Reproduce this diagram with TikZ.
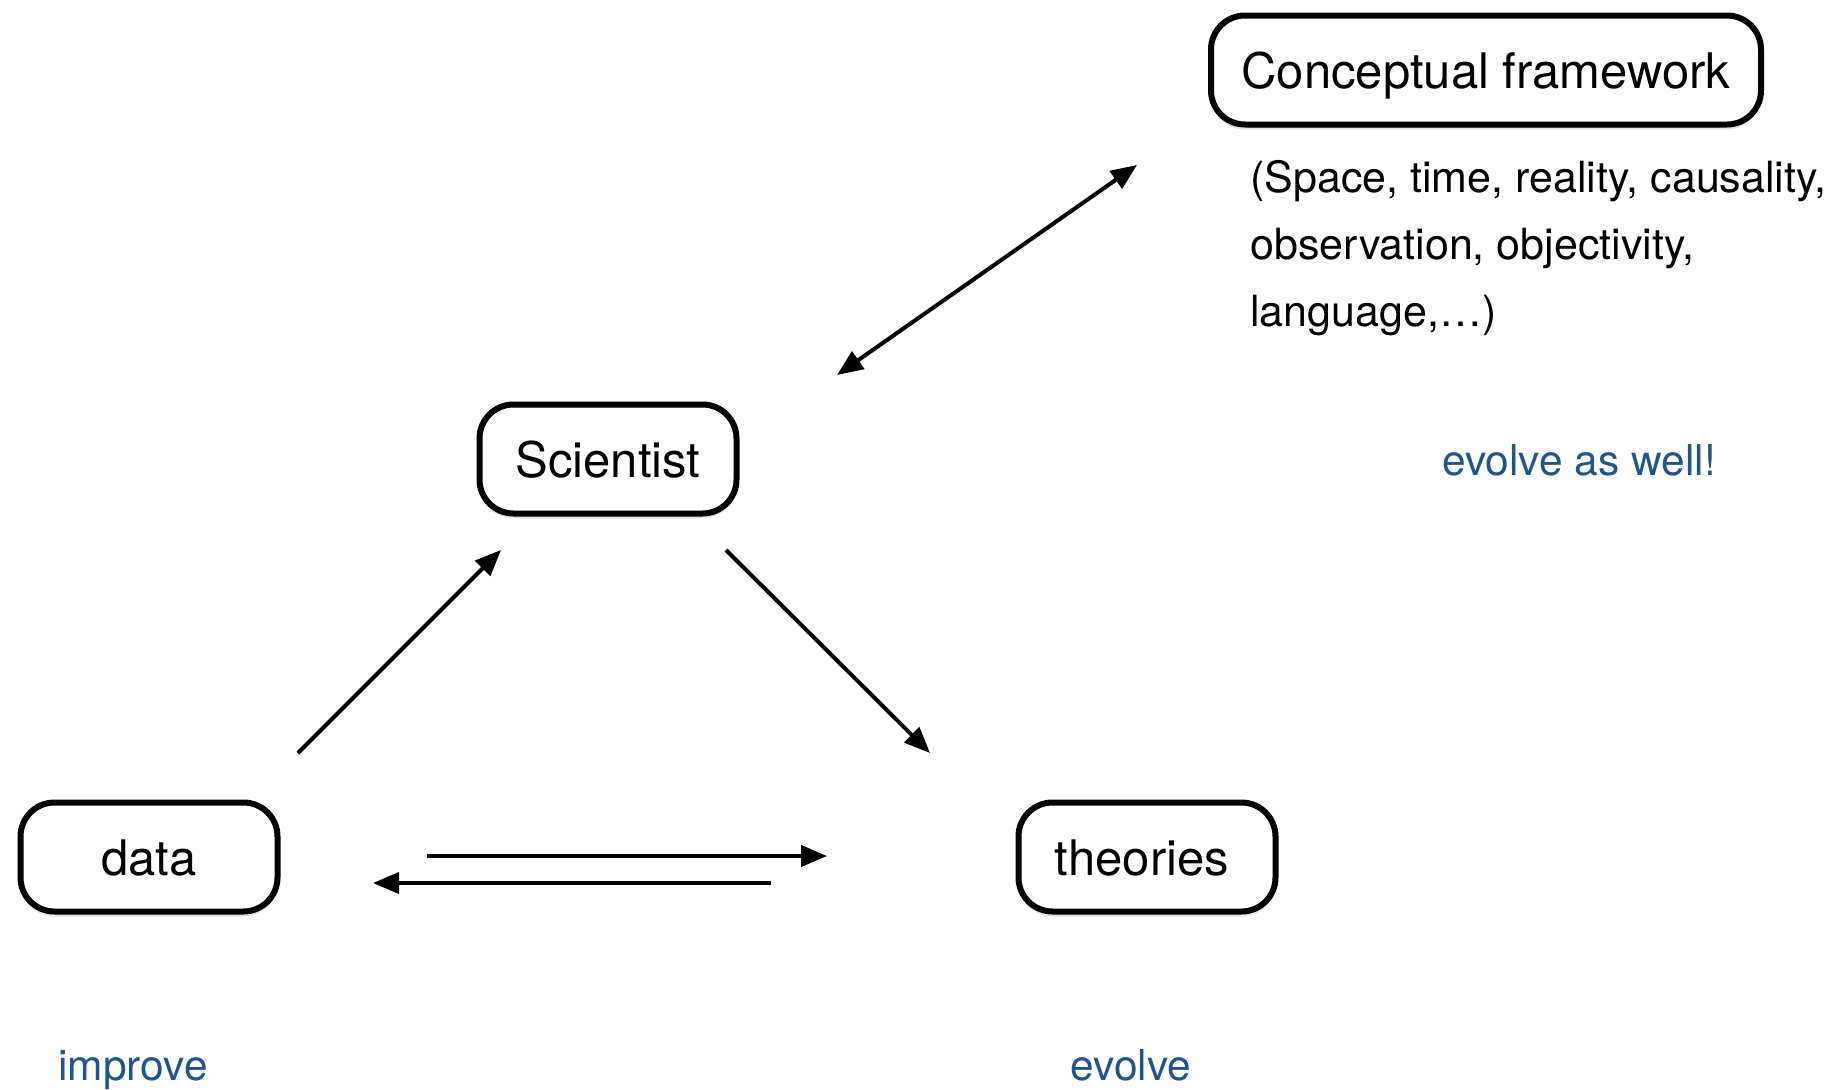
\documentclass[tikz,border=0pt]{standalone}
\usepackage{fontspec}
\setmainfont{TeX Gyre Heros}
\usetikzlibrary{arrows.meta,shadows}
\definecolor{evblue}{RGB}{31,84,140}
\begin{document}
\begin{tikzpicture}[x=1pt,y=-1pt,
  box/.style={draw, line width=6pt, rounded corners=34pt, fill=white, inner sep=0pt,
    font=\fontsize{49}{58}\selectfont, text height=36pt, text depth=0pt,
    drop shadow={opacity=0.22, shadow xshift=0pt, shadow yshift=-5pt}},
  arr/.style={line width=4pt, -{Triangle[length=26pt,width=21pt]}},
  dblarr/.style={line width=4pt, {Triangle[length=26pt,width=21pt]}-{Triangle[length=26pt,width=21pt]}},
  desc/.style={anchor=base west, inner sep=0pt, font=\fontsize{43}{50}\selectfont},
  note/.style={inner sep=0pt, text=evblue, font=\fontsize{42.5}{50}\selectfont}
]
\useasboundingbox (0,0) rectangle (1832,1090);

\node[box, minimum width=550pt, minimum height=109pt] (cf) at (1486,70) {Conceptual framework};
\node[box, minimum width=257pt, minimum height=109pt] (sci) at (608,459) {Scientist};
\node[box, minimum width=257pt, minimum height=109pt] (data) at (149,857) {data};
\node[box, minimum width=257pt, minimum height=109pt] (th) at (1147,857) {\hspace*{-10pt}theories};

\node[desc] (d1) at (1250,192) {(Space, time, reality, causality,};
\node[desc] (d2) at (1250,259) {observation, objectivity,};
\node[desc] (d3) at (1250,326) {language,…)};

\node[note, anchor=base] (ev2) at (1579,475) {evolve as well!};
\node[note, anchor=base west] (imp) at (58,1080) {improve};
\node[note, anchor=base] (ev) at (1131,1080) {evolve};

\coordinate (a1) at (837,375);
\coordinate (a2) at (1137,165);
\coordinate (b1) at (298,753);
\coordinate (b2) at (501,550);
\coordinate (c1) at (726,550);
\coordinate (c2) at (930,753);
\coordinate (e1) at (427,856);
\coordinate (e2) at (827,856);
\coordinate (f1) at (771,883);
\coordinate (f2) at (373,883);

\draw[dblarr] (a1) -- (a2);
\draw[arr] (b1) -- (b2);
\draw[arr] (c1) -- (c2);
\draw[arr] (e1) -- (e2);
\draw[arr] (f1) -- (f2);
\end{tikzpicture}
\end{document}
